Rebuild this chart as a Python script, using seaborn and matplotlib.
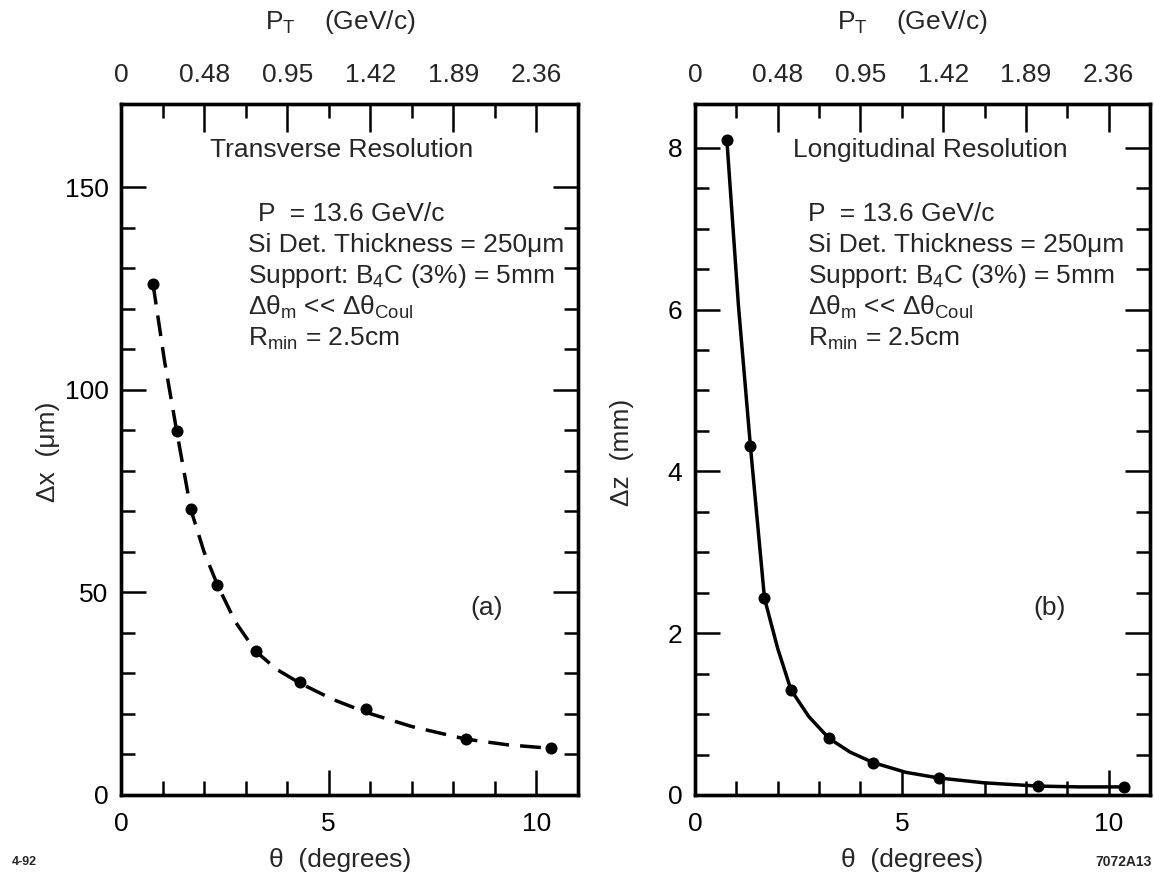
import matplotlib
matplotlib.use("Agg")
import matplotlib.pyplot as plt
import seaborn as sns
import pandas as pd
from matplotlib.ticker import FixedLocator

# ---------------- data ----------------
# measured points
theta_a = [0.77, 1.34, 1.68, 2.32, 3.24, 4.31, 5.90, 8.30, 10.36]
dx_um = [126.2, 89.9, 70.5, 51.9, 35.5, 28.0, 21.2, 13.8, 11.5]

theta_b = [0.77, 1.34, 1.68, 2.32, 3.24, 4.31, 5.90, 8.30, 10.36]
dz_mm = [8.10, 4.31, 2.43, 1.30, 0.70, 0.40, 0.21, 0.11, 0.10]

# drawn fit curves
curve_theta_a = [0.77, 1.05, 1.34, 1.68, 2.0, 2.32, 2.75, 3.24, 3.75, 4.31,
                 5.1, 5.9, 7.0, 8.3, 9.3, 10.36]
curve_dx_um = [126.2, 107.0, 89.9, 70.5, 60.0, 51.9, 42.8, 35.5, 31.0, 27.6,
               23.6, 20.4, 16.9, 13.8, 12.4, 11.5]

curve_theta_b = [0.77, 1.05, 1.34, 1.68, 2.0, 2.32, 2.75, 3.24, 3.75, 4.31,
                 5.1, 5.9, 7.0, 8.3, 9.3, 10.36]
curve_dz_mm = [8.10, 6.05, 4.31, 2.43, 1.81, 1.30, 0.97, 0.70, 0.53, 0.40,
               0.28, 0.21, 0.15, 0.11, 0.10, 0.10]

bottom_major = [0, 5, 10]
bottom_minor = [1, 2, 3, 4, 6, 7, 8, 9]
pt_ticks_deg = [0, 2, 4, 6, 8, 10]
pt_minor_deg = [1, 3, 5, 7, 9]
pt_labels = ["0", "0.48", "0.95", "1.42", "1.89", "2.36"]

dx_major = [0, 50, 100, 150]
dx_minor = [10, 20, 30, 40, 60, 70, 80, 90, 110, 120, 130, 140]
dz_major = [0, 2, 4, 6, 8]
dz_minor = [0.5, 1, 1.5, 2.5, 3, 3.5, 4.5, 5, 5.5, 6.5, 7, 7.5]

info_lines = [
    "P  = 13.6 GeV/c",
    "Si Det. Thickness = 250\u03bcm",
    "Support: B$_4$C (3%) = 5mm",
    "\u0394\u03b8$_\\mathrm{m}$ << \u0394\u03b8$_\\mathrm{Coul}$",
    "R$_\\mathrm{min}$ = 2.5cm",
]

sns.set_theme(style="white")
plt.rcParams['font.family'] = ['Liberation Sans', 'DejaVu Sans']
plt.rcParams['mathtext.fontset'] = 'custom'
plt.rcParams['mathtext.rm'] = 'Liberation Sans'
plt.rcParams['mathtext.it'] = 'Liberation Sans:italic'
plt.rcParams['mathtext.bf'] = 'Liberation Sans:bold'
plt.rcParams['axes.edgecolor'] = 'black'

W, H = 1154, 884
fig = plt.figure(figsize=(W / 100, H / 100), dpi=100)
fig.patch.set_facecolor('white')


def fx(x):
    return x / W


def fy(y):
    return 1 - y / H


ax1 = fig.add_axes([fx(121), 89 / H, 457 / W, 691 / H])
ax2 = fig.add_axes([fx(695), 89 / H, 455 / W, 691 / H])

FS = 19


def style(ax, ymax, ymaj, ymin):
    ax.set_xlim(0, 11)
    ax.set_ylim(0, ymax)
    ax.set_facecolor('white')
    for s in ax.spines.values():
        s.set_visible(True)
        s.set_linewidth(2.4)
        s.set_color('black')
    ax.xaxis.set_major_locator(FixedLocator(bottom_major))
    ax.xaxis.set_minor_locator(FixedLocator(bottom_minor))
    ax.yaxis.set_major_locator(FixedLocator(ymaj))
    ax.yaxis.set_minor_locator(FixedLocator(ymin))
    ax.tick_params(axis='both', which='major', direction='in', length=18,
                   width=1.8, color='black', labelsize=FS, labelcolor='black')
    ax.tick_params(axis='both', which='minor', direction='in', length=10,
                   width=1.8, color='black')
    ax.tick_params(axis='x', which='both', top=False, bottom=True, pad=12)
    ax.tick_params(axis='y', which='both', left=True, right=True, pad=9)
    ax.set_xlabel("")
    ax.set_ylabel("")
    ax.grid(False)
    top = ax.twiny()
    top.set_xlim(0, 11)
    top.xaxis.set_major_locator(FixedLocator(pt_ticks_deg))
    top.set_xticklabels(pt_labels)
    top.xaxis.set_minor_locator(FixedLocator(pt_minor_deg))
    top.tick_params(axis='x', which='major', direction='in', length=20,
                    width=1.8, color='black', labelsize=FS, pad=12)
    top.tick_params(axis='x', which='minor', direction='in', length=10,
                    width=1.8, color='black')
    for s in top.spines.values():
        s.set_linewidth(2.4)
        s.set_color('black')
    return top


dfa = pd.DataFrame({"theta": theta_a, "dx": dx_um})
dfb = pd.DataFrame({"theta": theta_b, "dz": dz_mm})
cfa = pd.DataFrame({"theta": curve_theta_a, "dx": curve_dx_um})
cfb = pd.DataFrame({"theta": curve_theta_b, "dz": curve_dz_mm})

sns.lineplot(data=cfa, x="theta", y="dx", ax=ax1, color='black', lw=2.5,
             sort=False, estimator=None)
ax1.lines[-1].set_dashes((6.0, 3.2))
sns.scatterplot(data=dfa, x="theta", y="dx", ax=ax1, color='black', s=75,
                edgecolor='black', linewidth=0, zorder=5)

sns.lineplot(data=cfb, x="theta", y="dz", ax=ax2, color='black', lw=2.5,
             sort=False, estimator=None)
sns.scatterplot(data=dfb, x="theta", y="dz", ax=ax2, color='black', s=75,
                edgecolor='black', linewidth=0, zorder=5)

style(ax1, 170.6, dx_major, dx_minor)
style(ax2, 8.54, dz_major, dz_minor)

# panel annotations
fig.text(fx(342), fy(150), "Transverse Resolution", ha='center', va='center', fontsize=FS)
fig.text(fx(930), fy(150), "Longitudinal Resolution", ha='center', va='center', fontsize=FS)

rows = [221, 252, 283, 315, 346]
for i, (txt, yy) in enumerate(zip(info_lines, rows)):
    fig.text(fx(248 + (10 if i == 0 else 0)), fy(yy), txt, ha='left', va='baseline', fontsize=FS)
    fig.text(fx(808), fy(yy), txt, ha='left', va='baseline', fontsize=FS)

fig.text(fx(487), fy(608), "(a)", ha='center', va='center', fontsize=FS)
fig.text(fx(1050), fy(608), "(b)", ha='center', va='center', fontsize=FS)

# axis titles
fig.text(fx(48), fy(452), "\u0394x  (\u03bcm)", ha='center', va='center', rotation=90, fontsize=FS)
fig.text(fx(622), fy(452), "\u0394z  (mm)", ha='center', va='center', rotation=90, fontsize=FS)
fig.text(fx(340), fy(860), "\u03b8  (degrees)", ha='center', va='center', fontsize=FS)
fig.text(fx(912), fy(860), "\u03b8  (degrees)", ha='center', va='center', fontsize=FS)
fig.text(fx(340), fy(22), "P$_\\mathrm{T}$    (GeV/c)", ha='center', va='center', fontsize=FS)
fig.text(fx(912), fy(22), "P$_\\mathrm{T}$    (GeV/c)", ha='center', va='center', fontsize=FS)

fig.text(fx(12), fy(862), "4-92", ha='left', va='center', fontsize=9, fontweight='bold')
fig.text(fx(1152), fy(862), "7072A13", ha='right', va='center', fontsize=10, fontweight='bold')

fig.savefig("out.png", dpi=100, facecolor='white')
